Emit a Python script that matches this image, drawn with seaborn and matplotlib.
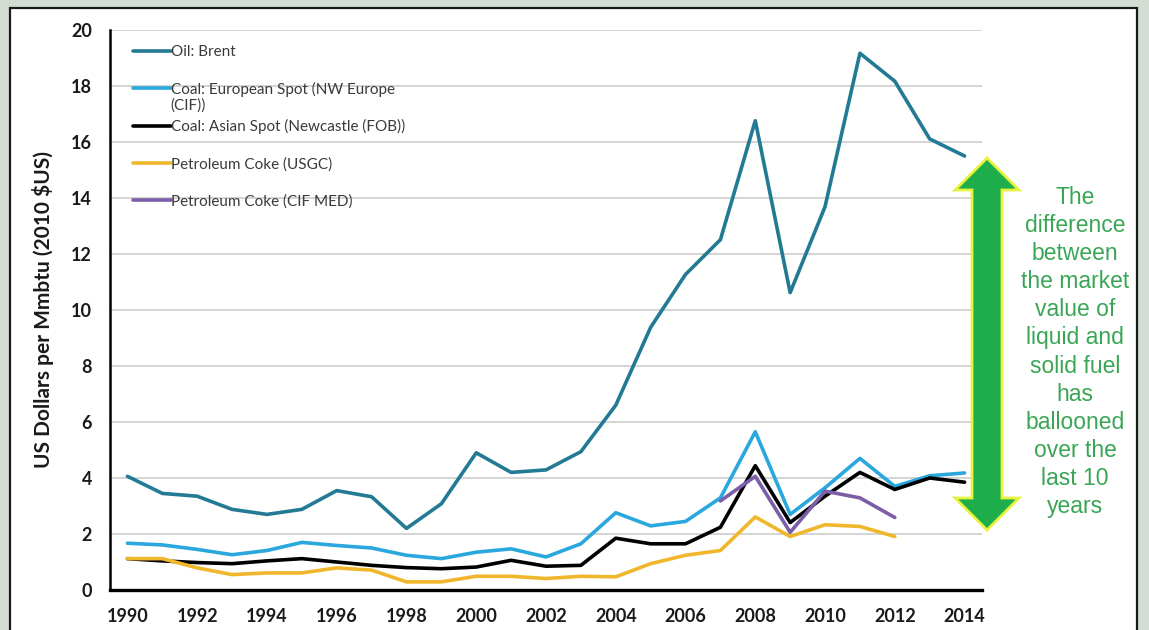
import numpy as np
import pandas as pd
import matplotlib
matplotlib.use("Agg")
import matplotlib.pyplot as plt
from matplotlib.patches import Rectangle, Polygon
from matplotlib.lines import Line2D
import seaborn as sns

# ---- data (2010 US$ per MMBtu) ----
years = list(range(1990, 2015))
oil_brent = [4.06, 3.45, 3.35, 2.88, 2.70, 2.88, 3.55, 3.33, 2.20, 3.08, 4.90, 4.20, 4.29,
             4.94, 6.60, 9.38, 11.27, 12.51, 16.76, 10.62, 13.69, 19.17, 18.17, 16.11, 15.50]
coal_europe = [1.67, 1.61, 1.45, 1.26, 1.41, 1.70, 1.59, 1.50, 1.24, 1.12, 1.35, 1.47, 1.18,
               1.65, 2.76, 2.29, 2.45, 3.29, 5.65, 2.70, 3.65, 4.70, 3.70, 4.08, 4.18]
coal_asia = [1.12, 1.04, 0.98, 0.94, 1.04, 1.12, 1.00, 0.88, 0.80, 0.76, 0.82, 1.06, 0.85,
             0.88, 1.85, 1.65, 1.65, 2.24, 4.44, 2.41, 3.35, 4.20, 3.59, 4.00, 3.85]
petcoke_usgc_years = list(range(1990, 2013))
petcoke_usgc = [1.12, 1.12, 0.79, 0.55, 0.61, 0.61, 0.79, 0.71, 0.29, 0.29, 0.49, 0.49,
                0.41, 0.49, 0.47, 0.94, 1.24, 1.41, 2.61, 1.91, 2.33, 2.27, 1.91]
petcoke_med_years = list(range(2007, 2013))
petcoke_med = [3.18, 4.06, 2.06, 3.53, 3.29, 2.59]

series_names = ["Oil: Brent",
                "Coal: European Spot (NW Europe (CIF))",
                "Coal: Asian Spot (Newcastle (FOB))",
                "Petroleum Coke (USGC)",
                "Petroleum Coke (CIF MED)"]
series_colors = ["#237a93", "#2aa7dd", "#000000", "#f1b72c", "#7b5ea7"]
year_ticks = list(range(1990, 2015, 2))
value_ticks = list(range(0, 21, 2))

frames = [
    pd.DataFrame({"year": years, "value": oil_brent, "series": series_names[0]}),
    pd.DataFrame({"year": years, "value": coal_europe, "series": series_names[1]}),
    pd.DataFrame({"year": years, "value": coal_asia, "series": series_names[2]}),
    pd.DataFrame({"year": petcoke_usgc_years, "value": petcoke_usgc, "series": series_names[3]}),
    pd.DataFrame({"year": petcoke_med_years, "value": petcoke_med, "series": series_names[4]}),
]
df = pd.concat(frames, ignore_index=True)

sns.set_theme(style="white")
plt.rcParams["font.family"] = ["Lato", "DejaVu Sans"]

W, H = 1149, 630
fig = plt.figure(figsize=(W / 100, H / 100), dpi=100)
fig.patch.set_facecolor("#d4ddd4")

# white panel with dark frame, behind everything else
fig.patches.append(Rectangle((10 / W, -0.05), (1137 - 10) / W, 1.05 - 8 / H,
                             transform=fig.transFigure, facecolor="white",
                             edgecolor="#1a1a1a", linewidth=1.6, zorder=-5))

ax = fig.add_axes([110 / W, (H - 590) / H, (982 - 110) / W, (590 - 30) / H])
ax.set_facecolor("none")

sns.lineplot(data=df, x="year", y="value", hue="series", hue_order=series_names,
             palette=series_colors, linewidth=2.6, ax=ax, legend=False,
             estimator=None, sort=True)

ax.set_xlim(1989.5, 2014.5)
ax.set_ylim(0, 20)
ax.set_xticks(year_ticks)
ax.set_yticks(value_ticks)
ax.set_xticklabels([str(y) for y in year_ticks], fontsize=13, fontweight="bold", color="#1a1a1a")
ax.set_yticklabels([str(v) for v in value_ticks], fontsize=13, fontweight="bold", color="#1a1a1a")
ax.tick_params(axis="both", length=0)
ax.tick_params(axis="y", pad=13)
ax.tick_params(axis="x", pad=13)
ax.yaxis.grid(True, color="#d4d4d4", linewidth=1.4)
ax.xaxis.grid(False)
ax.set_axisbelow(True)
for side in ("top", "right"):
    ax.spines[side].set_visible(False)
ax.spines["left"].set_color("black")
ax.spines["left"].set_linewidth(1.8)
ax.spines["bottom"].set_color("black")
ax.spines["bottom"].set_linewidth(2.4)

ax.set_xlabel("")
ax.set_ylabel("US Dollars per Mmbtu (2010 $US)", fontsize=15, fontweight="bold",
              color="#1a1a1a", labelpad=12)

# legend: the long European label wraps onto a second line under its first line
legend_labels = list(series_names)
wrap_head, wrap_tail = "Coal: European Spot (NW Europe", "(CIF))"
legend_labels[1] = wrap_head
handles = [Line2D([], [], color=c, linewidth=2.6) for c in series_colors]
leg = ax.legend(handles, legend_labels, loc="upper left", bbox_to_anchor=(17 / 872, 0.984),
                frameon=False, fontsize=11, handlelength=2.45, handletextpad=0.0,
                labelspacing=1.48, borderaxespad=0)
for t in leg.get_texts():
    t.set_color("#3a3a3a")
ax.annotate(wrap_tail, xy=(0, 0), xycoords=leg.get_texts()[1], xytext=(0, -1),
            textcoords="offset points", ha="left", va="top", fontsize=11,
            color="#3a3a3a", zorder=10)

# double-headed arrow beside the plot
cx, top, bot = 987, 158, 530
hw, hh, sw = 32, 32, 15
pts = [(cx, top), (cx + hw, top + hh), (cx + sw, top + hh), (cx + sw, bot - hh),
       (cx + hw, bot - hh), (cx, bot), (cx - hw, bot - hh), (cx - sw, bot - hh),
       (cx - sw, top + hh), (cx - hw, top + hh)]
pts = [(x / W, (H - y) / H) for x, y in pts]
fig.patches.append(Polygon(pts, closed=True, transform=fig.transFigure,
                           facecolor="#1fae4b", edgecolor="#e9f23d", linewidth=2.0,
                           joinstyle="miter", zorder=3))

fig.text(1075 / W, (H - 352) / H,
         "The\ndifference\nbetween\nthe market\nvalue of\nliquid and\nsolid fuel\nhas\nballooned\nover the\nlast 10\nyears",
         ha="center", va="center", fontsize=16.5, color="#3aa655",
         family=["Liberation Sans", "DejaVu Sans"], linespacing=1.28)

fig.savefig("out.png", dpi=100, facecolor=fig.get_facecolor())
